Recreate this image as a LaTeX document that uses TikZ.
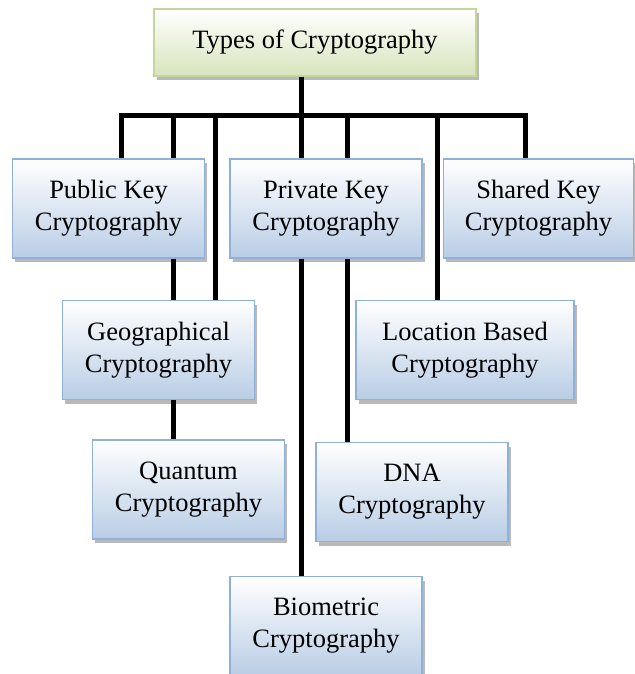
\documentclass[tikz,border=0pt]{standalone}
\usepackage{fontspec}
\setmainfont{Liberation Serif}
\usetikzlibrary{positioning,shadows}
\definecolor{boxblue}{HTML}{B9CDE5}
\definecolor{lineblue}{HTML}{8FB0D8}
\definecolor{boxgreen}{HTML}{D7E4BD}
\definecolor{linegreen}{HTML}{C3D69B}
\tikzset{
    crypto box/.style = {
        draw = lineblue,
        line width = 1.5pt,
        top color = white,
        bottom color = boxblue,
        general shadow = {fill=gray!55, shadow xshift=2.5pt, shadow yshift=-4pt},
        align = center,
        font = \fontsize{26.5}{32}\selectfont,
        minimum width = 192pt,
        minimum height = 99pt,
        inner sep = 0pt,
        },
    root box/.style = {
        crypto box,
        draw = linegreen,
        bottom color = boxgreen,
        minimum width = 322pt,
        minimum height = 67pt,
        },
    wire/.style = {
        draw = black,
        line width = 5pt,
        },
}

\begin{document}
\begin{tikzpicture}[x=1pt,y=1pt]
            \useasboundingbox (0,0) rectangle (634,-674);
            \node[root box] (types) at (315,-42.5) {Types of Cryptography};
            \node[crypto box] (priv) at (326,-208.5) {Private Key\\Cryptography};
            \node[crypto box, left=24pt of priv] (pub) {Public Key\\Cryptography};
            \node[crypto box, right=20pt of priv, minimum width=190pt] (shared) {Shared Key\\Cryptography};
            \node[crypto box, below=41pt of pub, xshift=50pt] (geo) {Geographical\\Cryptography};
            \node[crypto box, right=100pt of geo, minimum width=218pt] (loc) {Location Based\\Cryptography};
            \node[crypto box, below=39pt of geo, xshift=30pt] (quant) {Quantum\\Cryptography};
            \node[crypto box, right=30pt of quant, yshift=-2.5pt] (dna) {DNA\\Cryptography};
            \node[crypto box, below=317pt of priv] (bio) {Biometric\\Cryptography};

            % drop points on the bus
            \coordinate (dropA) at (121,-116);
            \coordinate (dropB) at (173,-116);
            \coordinate (dropC) at (215,-116);
            \coordinate (dropD) at (301,-116);
            \coordinate (dropE) at (347,-116);
            \coordinate (dropF) at (437,-116);
            \coordinate (dropG) at (525,-116);

            \draw[wire] (dropA |- pub.north) -- (dropA) -- (dropG) -- (dropG |- shared.north);
            \draw[wire] (types.south -| dropD) -- (dropD |- priv.north);
            \draw[wire] (dropB) -- (dropB |- pub.north);
            \draw[wire] (pub.south -| dropB) -- (geo.north -| dropB);
            \draw[wire] (geo.south -| dropB) -- (quant.north -| dropB);
            \draw[wire] (dropC) -- (dropC |- geo.north);
            \draw[wire] (priv.south -| dropD) -- (bio.north -| dropD);
            \draw[wire] (dropE) -- (dropE |- priv.north);
            \draw[wire] (priv.south -| dropE) -- (dna.north -| dropE);
            \draw[wire] (dropF) -- (dropF |- loc.north);
        \end{tikzpicture}
\end{document}
